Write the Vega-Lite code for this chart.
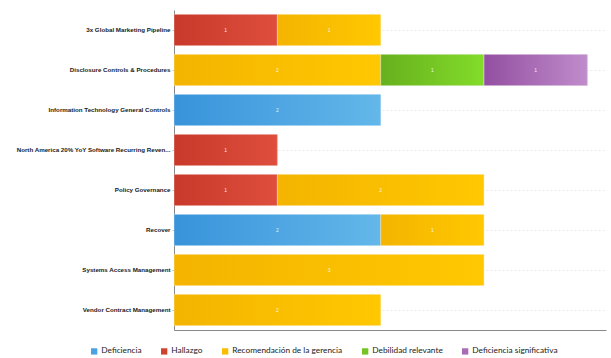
{
  "$schema": "https://vega.github.io/schema/vega-lite/v6.json",
  "width": 432,
  "height": 320,
  "autosize": "none",
  "padding": {"left": 174, "top": 10, "right": 5, "bottom": 28},
  "background": "white",
  "data": {
    "values": [
      {"categoria": "3x Global Marketing Pipeline", "tipo": "Hallazgo", "orden": 2, "valor": 1},
      {"categoria": "3x Global Marketing Pipeline", "tipo": "Recomendación de la gerencia", "orden": 3, "valor": 1},
      {"categoria": "Disclosure Controls & Procedures", "tipo": "Recomendación de la gerencia", "orden": 3, "valor": 2},
      {"categoria": "Disclosure Controls & Procedures", "tipo": "Debilidad relevante", "orden": 4, "valor": 1},
      {"categoria": "Disclosure Controls & Procedures", "tipo": "Deficiencia significativa", "orden": 5, "valor": 1},
      {"categoria": "Information Technology General Controls", "tipo": "Deficiencia", "orden": 1, "valor": 2},
      {"categoria": "North America 20% YoY Software Recurring Reven...", "tipo": "Hallazgo", "orden": 2, "valor": 1},
      {"categoria": "Policy Governance", "tipo": "Hallazgo", "orden": 2, "valor": 1},
      {"categoria": "Policy Governance", "tipo": "Recomendación de la gerencia", "orden": 3, "valor": 2},
      {"categoria": "Recover", "tipo": "Deficiencia", "orden": 1, "valor": 2},
      {"categoria": "Recover", "tipo": "Recomendación de la gerencia", "orden": 3, "valor": 1},
      {"categoria": "Systems Access Management", "tipo": "Recomendación de la gerencia", "orden": 3, "valor": 3},
      {"categoria": "Vendor Contract Management", "tipo": "Recomendación de la gerencia", "orden": 3, "valor": 2}
    ]
  },
  "transform": [
    {"stack": "valor", "groupby": ["categoria"], "sort": [{"field": "orden", "order": "ascending"}], "as": ["x0", "x1"]},
    {"calculate": "(datum.x0 + datum.x1) / 2", "as": "xm"}
  ],
  "encoding": {
    "y": {
      "field": "categoria",
      "type": "nominal",
      "title": null,
      "scale": {"paddingInner": 0.22, "paddingOuter": 0.11},
      "axis": {
        "labelFont": "Liberation Sans",
        "labelFontWeight": "bold",
        "labelFontSize": 6.2,
        "labelColor": "#1a1a1a",
        "labelLimit": 200,
        "labelPadding": 2,
        "tickSize": 2,
        "tickColor": "#bbb",
        "domainColor": "#888",
        "domainWidth": 1,
        "grid": true,
        "gridColor": "#e4e4e4",
        "gridDash": [2, 2],
        "gridWidth": 0.8
      }
    },
    "x": {
      "field": "x0",
      "type": "quantitative",
      "title": null,
      "scale": {"domain": [0, 4.18], "nice": false},
      "axis": {"labels": false, "ticks": false, "grid": false, "domainColor": "#888", "domainWidth": 1}
    }
  },
  "layer": [
    {
      "mark": {"type": "bar"},
      "encoding": {
        "x2": {"field": "x1"},
        "fill": {
          "field": "tipo",
          "type": "nominal",
          "title": null,
          "sort": ["Deficiencia", "Hallazgo", "Recomendación de la gerencia", "Debilidad relevante", "Deficiencia significativa"],
          "scale": {
            "domain": ["Deficiencia", "Hallazgo", "Recomendación de la gerencia", "Debilidad relevante", "Deficiencia significativa"],
            "range": ["#4aa3e0", "#d2432f", "#f9bd00", "#73c424", "#a96db5"]
          },
          "legend": {
            "orient": "none",
            "legendX": -84,
            "legendY": 337,
            "direction": "horizontal",
            "columns": 5,
            "columnPadding": 18,
            "symbolType": "square",
            "symbolSize": 40,
            "symbolStrokeWidth": 0,
            "labelFont": "Lato",
            "labelFontSize": 8.3,
            "labelColor": "#222",
            "labelOffset": 3,
            "labelLimit": 200
          }
        }
      }
    },
    {
      "mark": {"type": "bar", "stroke": "white", "strokeOpacity": 0.35, "strokeWidth": 1},
      "encoding": {
        "x2": {"field": "x1"},
        "fill": {
          "condition": [
            {"test": "datum.tipo === 'Deficiencia'", "value": {"gradient": "linear", "x1": 0, "y1": 0, "x2": 1, "y2": 0, "stops": [{"offset": 0, "color": "#3893da"}, {"offset": 1, "color": "#63b7e9"}]}},
            {"test": "datum.tipo === 'Hallazgo'", "value": {"gradient": "linear", "x1": 0, "y1": 0, "x2": 1, "y2": 0, "stops": [{"offset": 0, "color": "#c8392b"}, {"offset": 1, "color": "#df4e3c"}]}},
            {"test": "datum.tipo === 'Debilidad relevante'", "value": {"gradient": "linear", "x1": 0, "y1": 0, "x2": 1, "y2": 0, "stops": [{"offset": 0, "color": "#67b01e"}, {"offset": 1, "color": "#83dc2a"}]}},
            {"test": "datum.tipo === 'Deficiencia significativa'", "value": {"gradient": "linear", "x1": 0, "y1": 0, "x2": 1, "y2": 0, "stops": [{"offset": 0, "color": "#934fa1"}, {"offset": 1, "color": "#c08ccb"}]}}
          ],
          "value": {"gradient": "linear", "x1": 0, "y1": 0, "x2": 1, "y2": 0, "stops": [{"offset": 0, "color": "#f4b400"}, {"offset": 1, "color": "#ffc801"}]}
        }
      }
    },
    {
      "mark": {"type": "text", "fontSize": 5, "color": "white", "opacity": 0.85, "font": "Liberation Sans", "baseline": "middle", "align": "center"},
      "encoding": {
        "x": {"field": "xm", "type": "quantitative"},
        "text": {"field": "valor", "type": "quantitative"}
      }
    }
  ],
  "config": {
    "view": {"stroke": null}
  }
}
